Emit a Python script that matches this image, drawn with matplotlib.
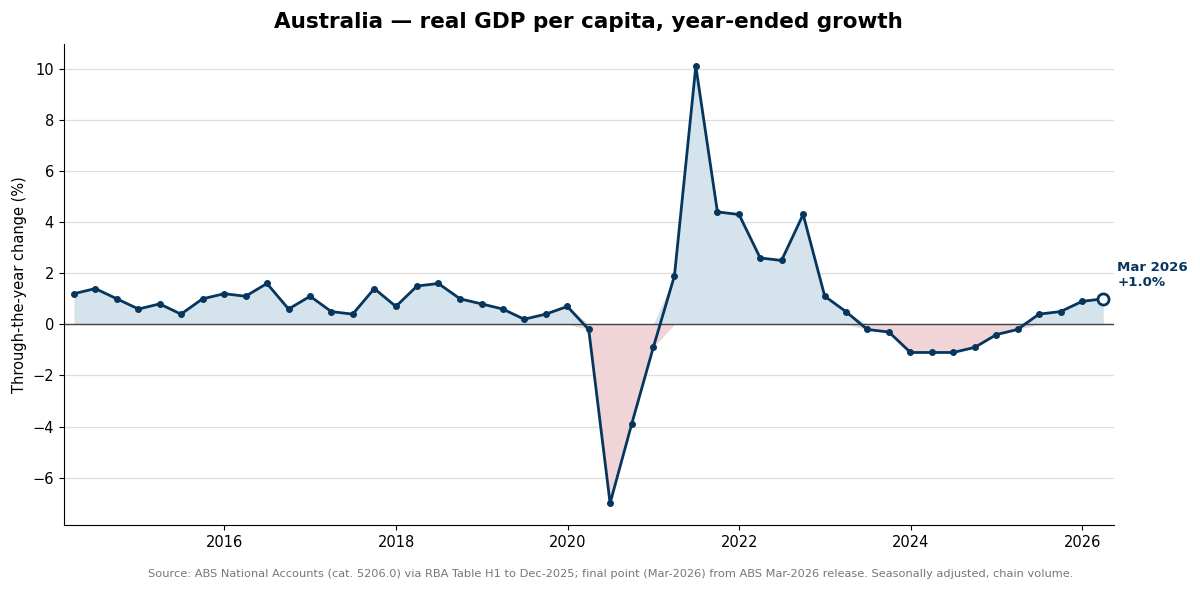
import numpy as np
import pandas as pd
import matplotlib
matplotlib.use("Agg")
import matplotlib.pyplot as plt
import matplotlib.dates as mdates
from matplotlib.ticker import MultipleLocator

# quarterly, year-ended growth of real GDP per capita (%)
quarters = pd.date_range("2014-03-31", "2026-03-31", freq="QE")
growth = [1.2, 1.4, 1.0, 0.6, 0.8, 0.4, 1.0, 1.2, 1.1, 1.6, 0.6, 1.1,
          0.5, 0.4, 1.4, 0.7, 1.5, 1.6, 1.0, 0.8, 0.6, 0.2, 0.4, 0.7,
          -0.2, -7.0, -3.9, -0.9, 1.9, 10.1, 4.4, 4.3, 2.6, 2.5, 4.3, 1.1,
          0.5, -0.2, -0.3, -1.1, -1.1, -1.1, -0.9, -0.4, -0.2, 0.4, 0.5, 0.9,
          1.0]
last_label = "Mar 2026\n+1.0%"
title = "Australia \u2014 real GDP per capita, year-ended growth"
ylabel = "Through-the-year change (%)"
source = ("Source: ABS National Accounts (cat. 5206.0) via RBA Table H1 to Dec-2025; "
          "final point (Mar-2026) from ABS Mar-2026 release. Seasonally adjusted, chain volume.")

navy = "#06365e"
y = np.array(growth)

fig, ax = plt.subplots(figsize=(12, 5.92), dpi=100)
fig.subplots_adjust(left=0.053, right=0.928, top=0.925, bottom=0.113)

#shaded areas above / below zero
ax.fill_between(quarters, np.maximum(y, 0), 0, color="#d5e3ec", lw=0, zorder=1)
ax.fill_between(quarters, np.minimum(y, 0), 0, color="#f0d4d7", lw=0, zorder=1)
ax.axhline(0, color="#444444", lw=1, zorder=2)

ax.plot(quarters[:-1], y[:-1], color=navy, lw=2, marker="o", ms=4, zorder=3)
ax.plot(quarters[-2:], y[-2:], color=navy, lw=2, zorder=3)
ax.plot(quarters[-1:], y[-1:], marker="o", ms=8, mfc="white", mec=navy, mew=2,
        ls="none", zorder=4)
ax.annotate(last_label, xy=(quarters[-1], y[-1]), xytext=(10, 7),
            textcoords="offset points", color=navy, fontsize=9.6,
            fontweight="bold", ha="left", va="bottom", annotation_clip=False)

ax.margins(x=0.01)
ax.xaxis.set_major_locator(mdates.YearLocator(2))
ax.xaxis.set_major_formatter(mdates.DateFormatter("%Y"))
ax.yaxis.set_major_locator(MultipleLocator(2))
ax.grid(axis="y", color="#dddddd", lw=0.9)
ax.set_axisbelow(True)
for s in ["top", "right"]:
    ax.spines[s].set_visible(False)
ax.tick_params(labelsize=10.5)
ax.set_ylabel(ylabel, fontsize=10.5)
ax.set_title(title, fontsize=15.5, fontweight="bold", pad=12)

fig.text(0.509, 0.025, source, ha="center", fontsize=8.2, color="#777777")

fig.savefig("out.png", dpi=100)
